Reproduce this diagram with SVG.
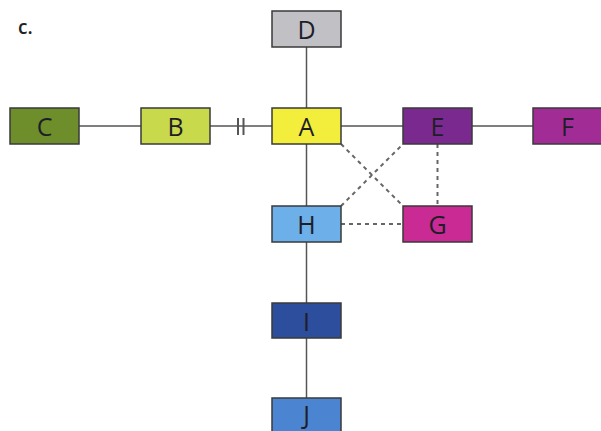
<svg xmlns="http://www.w3.org/2000/svg" width="601" height="431" viewBox="0 0 601 431">
<style>
.box{stroke:#3a3a3a;stroke-width:1.5}
.lbl{font-family:"Open Sans","Liberation Sans",sans-serif;font-size:25px;fill:#1e1e28;text-anchor:middle;dominant-baseline:central}
.ln{stroke:#555;stroke-width:1.5;fill:none}
.bar{stroke:#555;stroke-width:2;fill:none}
.dash{stroke:#666;stroke-width:2;stroke-dasharray:4 4;fill:none}
</style>
<rect width="601" height="431" fill="#fff"/>
<text x="18" y="34" font-family="Open Sans, Liberation Sans, sans-serif" font-size="19" font-weight="600" fill="#222">c.</text>
<g id="connectors">
<line class="ln" x1="306.5" y1="47" x2="306.5" y2="108"/>
<line class="ln" x1="79" y1="126" x2="141" y2="126"/>
<line class="ln" x1="210" y1="126" x2="272" y2="126"/>
<line class="bar" x1="238" y1="118" x2="238" y2="135"/>
<line class="bar" x1="243.5" y1="118" x2="243.5" y2="135"/>
<line class="ln" x1="341" y1="126" x2="403" y2="126"/>
<line class="ln" x1="472" y1="126" x2="533" y2="126"/>
<line class="ln" x1="306.5" y1="144" x2="306.5" y2="206"/>
<line class="ln" x1="306.5" y1="242" x2="306.5" y2="303"/>
<line class="ln" x1="306.5" y1="338" x2="306.5" y2="398"/>
<line class="dash" x1="341" y1="144" x2="403" y2="206"/>
<line class="dash" x1="341" y1="206" x2="403" y2="144"/>
<line class="dash" x1="437.5" y1="144" x2="437.5" y2="206"/>
<line class="dash" x1="341" y1="224" x2="403" y2="224"/>
</g>
<g id="D"><rect class="box" x="272" y="11" width="69" height="36" fill="#c1c1c5"/><text class="lbl" x="306.5" y="29">D</text></g>
<g id="C"><rect class="box" x="10" y="108" width="69" height="36" fill="#6e8e2c"/><text class="lbl" x="44.5" y="126">C</text></g>
<g id="B"><rect class="box" x="141" y="108" width="69" height="36" fill="#c9d94c"/><text class="lbl" x="175.5" y="126">B</text></g>
<g id="A"><rect class="box" x="272" y="108" width="69" height="36" fill="#f3ee3c"/><text class="lbl" x="306.5" y="126">A</text></g>
<g id="E"><rect class="box" x="403" y="108" width="69" height="36" fill="#7a2a8f"/><text class="lbl" x="437.5" y="126">E</text></g>
<g id="F"><rect class="box" x="533" y="108" width="69" height="36" fill="#a22c96"/><text class="lbl" x="567.5" y="126">F</text></g>
<g id="H"><rect class="box" x="272" y="206" width="69" height="36" fill="#6cafe9"/><text class="lbl" x="306.5" y="224">H</text></g>
<g id="G"><rect class="box" x="403" y="206" width="69" height="36" fill="#c92a94"/><text class="lbl" x="437.5" y="224">G</text></g>
<g id="I"><rect class="box" x="272" y="303" width="69" height="35" fill="#2d4d9d"/><text class="lbl" x="306.5" y="320.5">I</text></g>
<g id="J"><rect class="box" x="272" y="398" width="69" height="36" fill="#4b84d1"/><text class="lbl" x="306.5" y="414">J</text></g>
</svg>
